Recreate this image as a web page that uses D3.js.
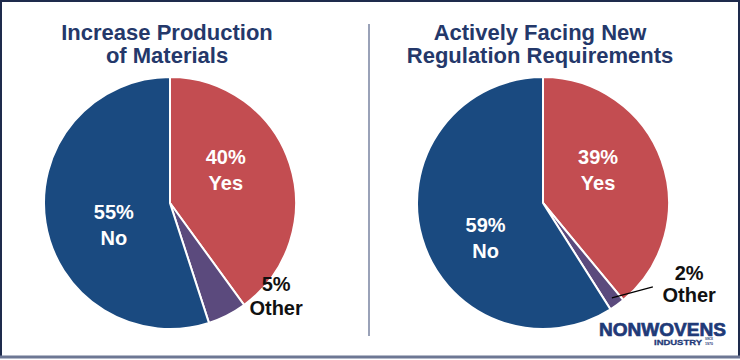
<!DOCTYPE html>
<html>
<head>
<meta charset="utf-8">
<script src="https://cdnjs.cloudflare.com/ajax/libs/d3/7.8.5/d3.min.js"></script>
<style>
  html, body { margin: 0; padding: 0; background: #ffffff; }
  svg { display: block; font-family: "Liberation Sans", Arial, sans-serif; }
</style>
</head>
<body>
<script>
// survey answers, in percent
var categories = ["Yes", "Other", "No"];
var productionValues = [40, 5, 55];
var regulationValues = [39, 2, 59];
var productionTitle = ["Increase Production", "of Materials"];
var regulationTitle = ["Actively Facing New", "Regulation Requirements"];

var w = 740, h = 360;
var radius = 126;
var colors = d3.scaleOrdinal()
	.domain(categories)
	.range(["#c34d51", "#5b4a7d", "#1a4a80"]);

var svg = d3.select("body")
	.append("svg")
	.attr("width", w)
	.attr("height", h);

// frame
svg.append("rect")
	.attr("x", 1).attr("y", 1)
	.attr("width", w - 2).attr("height", h - 4)
	.attr("fill", "#ffffff")
	.attr("stroke", "#1e2b4c")
	.attr("stroke-width", 2);
svg.append("line")
	.attr("x1", 0).attr("x2", w)
	.attr("y1", h - 3).attr("y2", h - 3)
	.attr("stroke", "#6d7794")
	.attr("stroke-width", 3);

// divider between the two pies
svg.append("line")
	.attr("x1", 369).attr("x2", 369)
	.attr("y1", 24).attr("y2", 336)
	.attr("stroke", "#9aa2b8")
	.attr("stroke-width", 2);

var pie = d3.pie().sort(null).value(function(d) { return d; });
var arc = d3.arc().innerRadius(0).outerRadius(radius);

function drawPie(cx, cy, values, title, labelSpots, leader) {
	var g = svg.append("g").attr("transform", "translate(" + cx + "," + cy + ")");

	g.selectAll("text.title")
		.data(title)
		.enter().append("text")
		.attr("class", "title")
		.attr("x", -3)
		.attr("y", function(d, i) { return -163 + i * 23; })
		.attr("text-anchor", "middle")
		.attr("font-size", 22)
		.attr("font-weight", "bold")
		.attr("fill", "#24386a")
		.text(function(d) { return d; });

	var slices = pie(values);
	g.selectAll("path")
		.data(slices)
		.enter().append("path")
		.attr("d", arc)
		.attr("fill", function(d, i) { return colors(categories[i]); })
		.attr("stroke", "#ffffff")
		.attr("stroke-width", 2);

	if (leader) {
		var s = slices[1];
		var p = d3.pointRadial((s.startAngle + s.endAngle) / 2, radius * 0.93);
		g.append("line")
			.attr("x1", p[0]).attr("y1", p[1])
			.attr("x2", p[0] + leader[0]).attr("y2", p[1] + leader[1])
			.attr("stroke", "#000000")
			.attr("stroke-width", 1.2);
	}

	slices.forEach(function(s, i) {
		var spot = labelSpots[i];
		var c = d3.pointRadial((s.startAngle + s.endAngle) / 2, spot.r);
		var x = c[0] + spot.dx, y = c[1] + spot.dy;
		var white = categories[i] != "Other";
		var t = g.append("text")
			.attr("text-anchor", "middle")
			.attr("font-size", 20)
			.attr("font-weight", "bold")
			.attr("fill", white ? "#ffffff" : "#111111");
		t.append("tspan").attr("x", x).attr("y", y).text(values[i] + "%");
		t.append("tspan").attr("x", x).attr("y", y + spot.gap).text(categories[i]);
	});
}

drawPie(170, 203, productionValues, productionTitle, [
	{r: 66, dx: -7, dy: -19, gap: 26},
	{r: 150, dx: 38, dy: -46, gap: 24},
	{r: 66, dx: 9, dy: 6, gap: 26}
], null);

drawPie(543, 203, regulationValues, regulationTitle, [
	{r: 66, dx: -7, dy: -17, gap: 26},
	{r: 150, dx: 58, dy: -44, gap: 22},
	{r: 66, dx: 6, dy: 11, gap: 26}
], [41, -11]);

// publisher logo
var logo = svg.append("g").attr("fill", "#1f3a78");
logo.append("text")
	.attr("x", 599).attr("y", 336)
	.attr("font-size", 19)
	.attr("font-weight", "bold")
	.attr("stroke", "#1f3a78")
	.attr("stroke-width", 0.7)
	.attr("textLength", 127)
	.attr("lengthAdjust", "spacingAndGlyphs")
	.text("NONWOVENS");
logo.append("text")
	.attr("x", 654).attr("y", 345)
	.attr("font-size", 8)
	.attr("font-weight", "bold")
	.attr("stroke", "#1f3a78")
	.attr("stroke-width", 0.3)
	.attr("textLength", 48)
	.attr("lengthAdjust", "spacingAndGlyphs")
	.text("INDUSTRY");
logo.selectAll("text.since")
	.data(["SINCE", "1970"])
	.enter().append("text")
	.attr("class", "since")
	.attr("x", 705).attr("y", function(d, i) { return 340 + i * 5; })
	.attr("font-size", 4)
	.attr("font-weight", "bold")
	.attr("textLength", 8)
	.attr("lengthAdjust", "spacingAndGlyphs")
	.text(function(d) { return d; });
</script>
</body>
</html>
